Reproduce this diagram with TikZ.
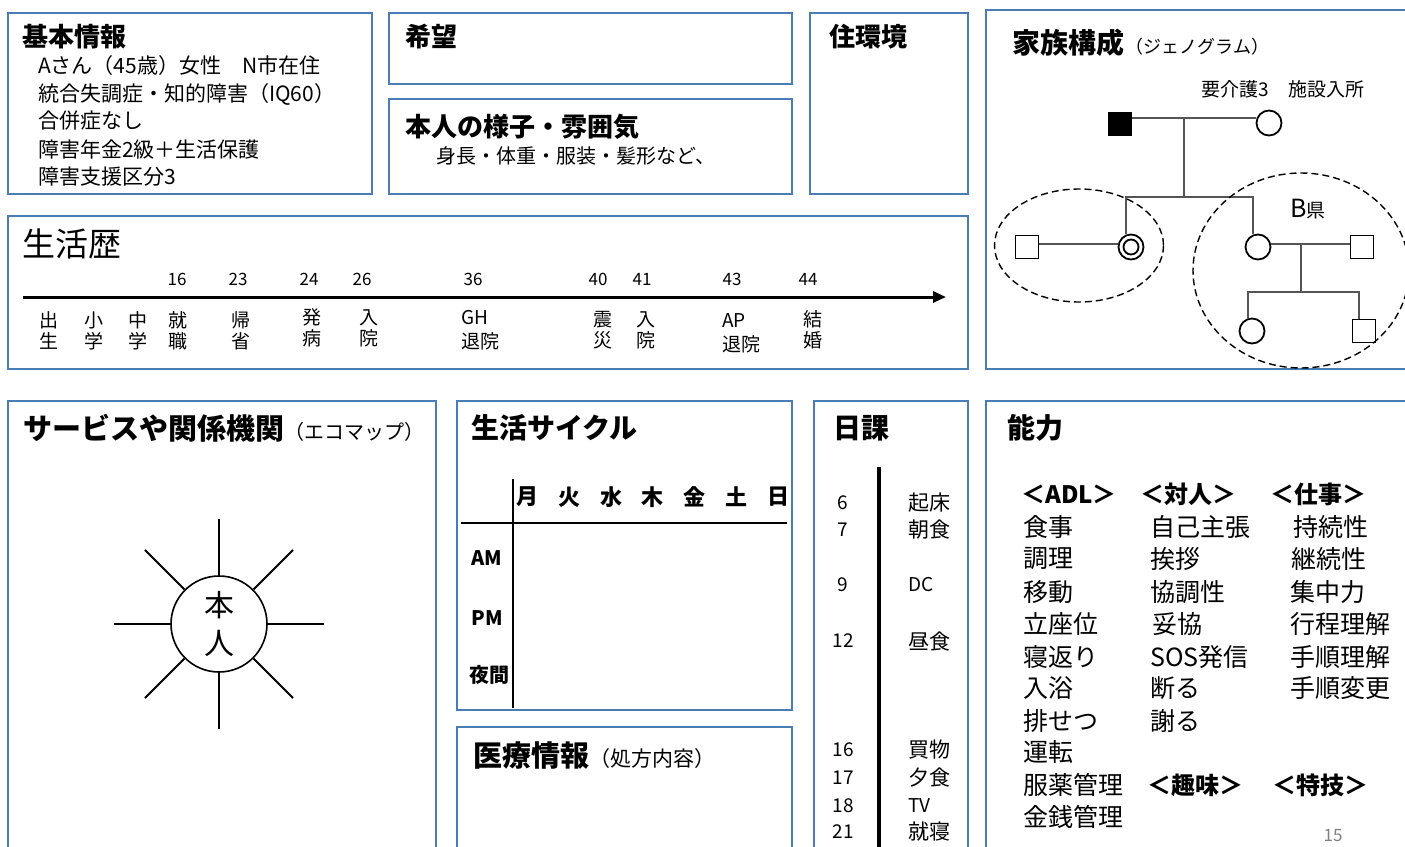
\documentclass[tikz,border=0pt]{standalone}
\usepackage{fontspec}
\setmainfont{Noto Sans CJK JP}
\usetikzlibrary{arrows.meta}
\definecolor{bx}{HTML}{4A7DB5}
\definecolor{gl}{HTML}{555555}
\newcommand{\fs}[1]{\fontsize{#1}{#1}\selectfont}
\begin{document}
\begin{tikzpicture}[x=1pt,y=-1pt,
  box/.style={draw=bx, line width=1.7pt},
  ttl/.style={font=\bfseries\fs{26}, anchor=west, inner sep=0},
  bttl/.style={font=\bfseries\fs{28}, anchor=west, inner sep=0},
  sub/.style={anchor=base west, inner sep=0},
  body/.style={font=\fs{21}, anchor=west, inner sep=0},
  age/.style={font=\fs{17}, inner sep=0},
  ev/.style={font=\fontsize{19}{21}\selectfont, align=center, inner sep=0},
  evl/.style={font=\fontsize{19}{24}\selectfont, align=left, anchor=west, inner sep=0},
  gsq/.style={draw, line width=1.8pt, minimum size=23pt, inner sep=0},
  gci/.style={draw, circle, line width=1.8pt, minimum size=25pt, inner sep=0},
  gline/.style={draw=gl, line width=1.2pt},
  fam/.style={dashed, dash pattern=on 7pt off 4pt, line width=1.4pt},
  day/.style={font=\bfseries\fs{22}, inner sep=0},
  slot/.style={font=\bfseries\fs{20}, inner sep=0},
  hr/.style={font=\fs{19}, inner sep=0},
  act/.style={font=\fs{21}, anchor=west, inner sep=0},
  abh/.style={font=\bfseries\fs{24}, anchor=west, inner sep=0},
  ab/.style={font=\fs{25}, anchor=west, inner sep=0},
  ray/.style={line width=2.8pt},
  dray/.style={line width=1.8pt}]
\clip (0,0) rectangle (1405,846);
\fill[white] (0,0) rectangle (1405,846);

% ---------- boxes ----------
\draw[box] (8,13) rectangle (372,194);
\draw[box] (389,13) rectangle (792,84);
\draw[box] (389,99) rectangle (792,194);
\draw[box] (810,13) rectangle (968,194);
\draw[box] (986,10) rectangle (1425,369);
\draw[box] (8,216) rectangle (968,369);
\draw[box] (8,401) rectangle (436,870);
\draw[box] (457,401) rectangle (792,710);
\draw[box] (457,727) rectangle (792,870);
\draw[box] (814,401) rectangle (968,870);
\draw[box] (986,401) rectangle (1425,870);

% ---------- 基本情報 ----------
\node[ttl] (kihon) at (22,37) {基本情報};
\node[body] (k1) at (38,66) {Aさん（45歳）女性　N市在住};
\node[body] (k2) at (38,94) {統合失調症・知的障害（IQ60）};
\node[body] (k3) at (38,121) {合併症なし};
\node[body] (k4) at (38,149) {障害年金2級＋生活保護};
\node[body] (k5) at (38,177) {障害支援区分3};

% ---------- 希望 / 本人の様子 / 住環境 ----------
\node[ttl] (kibo) at (405,37) {希望};
\node[ttl] (yosu) at (405,127) {本人の様子・雰囲気};
\node[font=\fs{20}, anchor=west, inner sep=0] (yosu1) at (436,156) {身長・体重・服装・髪形など、};
\node[ttl] (jukan) at (829,37) {住環境};

% ---------- 家族構成 ----------
\node[bttl] (kazoku) at (1012,43) {家族構成};
\node[sub, font=\fs{18}] (geno) at ([xshift=1pt]kazoku.base east) {（ジェノグラム）};
\node[font=\fs{19}, inner sep=0] (kaigo) at (1283,89) {要介護3　施設入所};
\node[inner sep=0] (bken) at (1308,209) {{\fs{25}B}{\fs{19}県}};

\node[gsq, fill=black] (gf) at (1120,124) {};
\node[gci] (gm) at (1269,123) {};
\node[gci] (self) at (1131,247) {};
\node[draw, circle, line width=1.8pt, minimum size=15pt, inner sep=0] (selfin) at (self) {};
\node[gsq] (hus) at (1027,247) {};
\node[gci] (sis) at (1258,247) {};
\node[gsq] (sish) at (1362,247) {};
\node[gci] (nc1) at (1252,331) {};
\node[gsq] (nc2) at (1364,331) {};

\coordinate (pm) at (1184,118);
\coordinate (sb) at (1184,197);
\coordinate (sm) at (1301,244);
\coordinate (cb) at (1301,292);
\draw[gline] (gf.east |- pm) -- (gm.west |- pm);
\draw[gline] (pm) -- (sb);
\draw[gline] ([xshift=-5pt]self.north) |- (sb) -| ([xshift=-5pt]sis.north);
\draw[gline] (hus.east |- sm) -- (self.west |- sm);
\draw[gline] (sis.east |- sm) -- (sish.west |- sm);
\draw[gline] (sm) -- (cb);
\draw[gline] ([xshift=-4pt]nc1.north) |- (cb) -| ([xshift=-5pt]nc2.north);

\draw[fam] (1079,245.5) ellipse [x radius=84.5, y radius=56.5];
\draw[fam] (1301,270.5) ellipse [x radius=108, y radius=97.5];

% ---------- 生活歴 ----------
\node[font=\fs{33}, anchor=west, inner sep=0] (rekishi) at (22,244) {生活歴};
\coordinate (tl0) at (23,297);
\coordinate (tl1) at (946,297);
\draw[line width=3pt, -{Triangle[length=13pt,width=11pt]}] (tl0) -- (tl1);

\node[age] (a16) at (177,279) {16};
\node[age] (a23) at (238,279) {23};
\node[age] (a24) at (309,279) {24};
\node[age] (a26) at (362,279) {26};
\node[age] (a36) at (473,279) {36};
\node[age] (a40) at (598,279) {40};
\node[age] (a41) at (642,279) {41};
\node[age] (a43) at (732,279) {43};
\node[age] (a44) at (808,279) {44};

\node[ev] (e1) at (49,331) {出\\生};
\node[ev] (e2) at (94,331) {小\\学};
\node[ev] (e3) at (138,331) {中\\学};
\node[ev] (e4) at (178,331) {就\\職};
\node[ev] (e5) at (241,331) {帰\\省};
\node[ev] (e6) at (312,328) {発\\病};
\node[ev] (e7) at (369,328) {入\\院};
\node[evl] (e8) at (461,330) {GH\\退院};
\node[ev] (e9) at (603,330) {震\\災};
\node[ev] (e10) at (646,330) {入\\院};
\node[evl] (e11) at (722,333) {AP\\退院};
\node[ev] (e12) at (813,330) {結\\婚};

% ---------- エコマップ ----------
\node[anchor=west, inner sep=0, font=\bfseries\fs{29}] (eco) at (23,428) {サービスや関係機関};
\node[sub, font=\fs{20}] (eco2) at (eco.base east) {（エコマップ）};
\node[draw, circle, line width=1.6pt, minimum size=96pt, inner sep=0,
      font=\fontsize{30}{38}\selectfont, align=center] (me) at (219,624) {本\\人};
\foreach \a in {0,90,180,270} \draw[ray] (me.\a) -- ++(\a:56pt);
\foreach \a in {45,135,225,315} \draw[dray] (me.\a) -- ++(\a:56pt);

% ---------- 生活サイクル ----------
\node[bttl] (cycle) at (471,428) {生活サイクル};
\coordinate (tv0) at (513,479);
\coordinate (tv1) at (513,708);
\coordinate (th0) at (461,523);
\coordinate (th1) at (787,523);
\draw[line width=2.8pt] (tv0) -- (tv1);
\draw[line width=2.8pt] (th0) -- (th1);
\node[day] (d1) at (527,497) {月};
\node[day] (d2) at (569,497) {火};
\node[day] (d3) at (611,497) {水};
\node[day] (d4) at (652,497) {木};
\node[day] (d5) at (694,497) {金};
\node[day] (d6) at (736,497) {土};
\node[day] (d7) at (778,497) {日};
\node[slot] (am) at (487,558) {AM};
\node[slot] (pmx) at (487,618) {PM};
\node[slot] (night) at (489,675) {夜間};

% ---------- 医療情報 ----------
\node[anchor=west, inner sep=0, font=\bfseries\fs{29}] (iryo) at (473,755) {医療情報};
\node[sub, font=\fs{21}] (iryo2) at (iryo.base east) {（処方内容）};

% ---------- 日課 ----------
\node[bttl] (nikka) at (833,428) {日課};
\coordinate (nv0) at (879,467);
\coordinate (nv1) at (879,866);
\draw[line width=3.5pt, -{Triangle[length=12pt,width=12pt]}] (nv0) -- (nv1);
\node[hr] (h6) at (843,503) {6};
\node[hr] (h7) at (843,530) {7};
\node[hr] (h9) at (843,585) {9};
\node[hr] (h12) at (843,641) {12};
\node[hr] (h16) at (843,750) {16};
\node[hr] (h17) at (843,778) {17};
\node[hr] (h18) at (843,806) {18};
\node[hr] (h21) at (843,832) {21};
\node[act] (n1) at (908,503) {起床};
\node[act] (n2) at (908,530) {朝食};
\node[act, font=\fs{19}] (n3) at (908,585) {DC};
\node[act] (n4) at (908,641) {昼食};
\node[act] (n5) at (908,750) {買物};
\node[act] (n6) at (908,778) {夕食};
\node[act, font=\fs{19}] (n7) at (908,806) {TV};
\node[act] (n8) at (908,832) {就寝};

% ---------- 能力 ----------
\node[bttl] (noryoku) at (1007,428) {能力};
\node[abh] (hadl) at (1021,494) {＜ADL＞};
\node[abh] (htai) at (1140,494) {＜対人＞};
\node[abh] (hshi) at (1270,494) {＜仕事＞};
\node[ab] (a1) at (1023,527) {食事};
\node[ab] (a2) at (1023,559) {調理};
\node[ab] (a3) at (1023,592) {移動};
\node[ab] (a4) at (1023,624) {立座位};
\node[ab] (a5) at (1023,657) {寝返り};
\node[ab] (a6) at (1023,688) {入浴};
\node[ab] (a7) at (1023,721) {排せつ};
\node[ab] (a8) at (1023,752) {運転};
\node[ab] (a9) at (1023,785) {服薬管理};
\node[ab] (a10) at (1023,817) {金銭管理};
\node[ab] (b1) at (1150,527) {自己主張};
\node[ab] (b2) at (1150,559) {挨拶};
\node[ab] (b3) at (1150,592) {協調性};
\node[ab] (b4) at (1152,624) {妥協};
\node[ab] (b5) at (1150,657) {SOS発信};
\node[ab] (b6) at (1150,688) {断る};
\node[ab] (b7) at (1150,721) {謝る};
\node[ab] (c1) at (1293,527) {持続性};
\node[ab] (c2) at (1291,559) {継続性};
\node[ab] (c3) at (1290,592) {集中力};
\node[ab] (c4) at (1290,624) {行程理解};
\node[ab] (c5) at (1290,657) {手順理解};
\node[ab] (c6) at (1290,688) {手順変更};
\node[abh] (hshu) at (1147,785) {＜趣味＞};
\node[abh] (htok) at (1272,785) {＜特技＞};
\node[font=\fs{17}, text=gray, inner sep=0] (pg) at (1333,836) {15};
\end{tikzpicture}
\end{document}
